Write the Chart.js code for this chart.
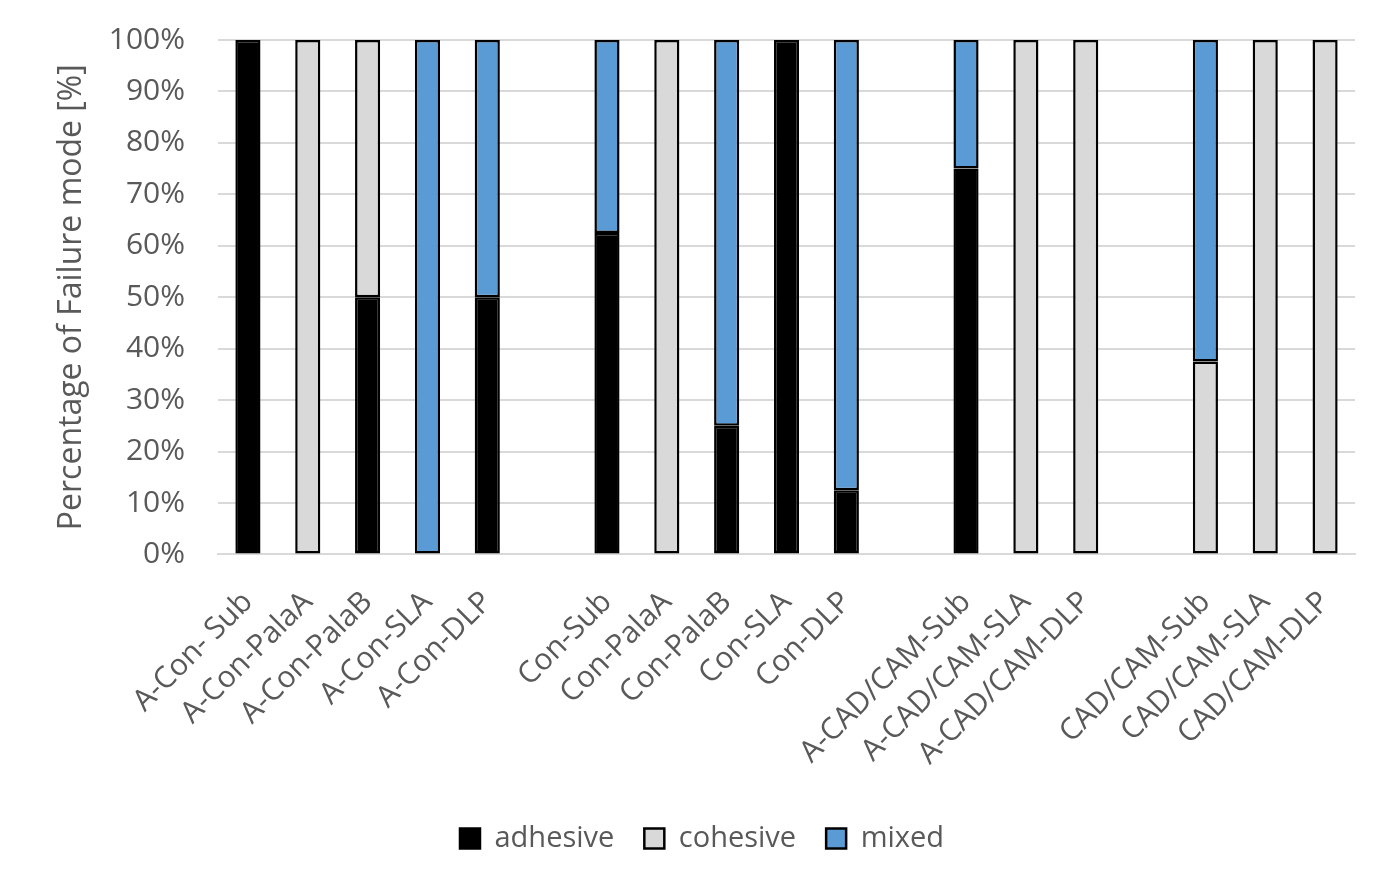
<!DOCTYPE html>
<html>
<head>
<meta charset="utf-8">
<script src="https://cdn.jsdelivr.net/npm/chart.js@4.4.0/dist/chart.umd.min.js"></script>
<style>
  html, body { margin: 0; padding: 0; background: #fff; }
  #wrap { width: 1399px; height: 889px; }
</style>
</head>
<body>
<div id="wrap"><canvas id="myChart" width="1399" height="889"></canvas></div>
<script>
// categories, '' = empty gap slot between groups
const categories = [
  'A-Con- Sub', 'A-Con-PalaA', 'A-Con-PalaB', 'A-Con-SLA', 'A-Con-DLP', '',
  'Con-Sub', 'Con-PalaA', 'Con-PalaB', 'Con-SLA', 'Con-DLP', '',
  'A-CAD/CAM-Sub', 'A-CAD/CAM-SLA', 'A-CAD/CAM-DLP', '',
  'CAD/CAM-Sub', 'CAD/CAM-SLA', 'CAD/CAM-DLP'
];

// percentages, null = no share
const adhesive = [100, null, 50, null, 50, null, 62.5, null, 25, 100, 12.5, null, 75, null, null, null, null, null, null];
const cohesive = [null, 100, 50, null, null, null, null, 100, null, null, null, null, null, 100, 100, null, 37.5, 100, 100];
const mixed    = [null, null, null, 100, 50, null, 37.5, null, 75, null, 87.5, null, 25, null, null, null, 62.5, null, null];

const yTicks = [0, 10, 20, 30, 40, 50, 60, 70, 80, 90, 100];

const textColor = '#595959';
const fontFamily = '"Open Sans", sans-serif';

const makeSet = (label, data, color) => ({
  label: label,
  data: data,
  backgroundColor: color,
  borderColor: '#000',
  borderWidth: 2.5,
  borderSkipped: false,
  barPercentage: 0.42,
  categoryPercentage: 1.0
});

new Chart(document.getElementById('myChart'), {
  type: 'bar',
  data: {
    labels: categories,
    datasets: [
      makeSet('adhesive', adhesive, '#000000'),
      makeSet('cohesive', cohesive, '#d9d9d9'),
      makeSet('mixed', mixed, '#5b9bd5')
    ]
  },
  options: {
    responsive: false,
    animation: false,
    layout: { padding: { left: 49, right: 44, top: 40, bottom: 26 } },
    scales: {
      x: {
        stacked: true,
        grid: { display: false },
        border: { color: '#d9d9d9', width: 2 },
        // let the rotated first label hang into the y axis area, as in the original
        afterFit: scale => { scale.paddingLeft = 0; scale.paddingRight = 0; },
        ticks: {
          color: textColor,
          font: { family: fontFamily, size: 30 },
          maxRotation: 45,
          minRotation: 45,
          autoSkip: false,
          padding: 22
        }
      },
      y: {
        stacked: true,
        min: 0,
        max: 100,
        afterBuildTicks: axis => { axis.ticks = yTicks.map(v => ({ value: v })); },
        afterFit: scale => {
          scale.width = 169;
          scale.paddingTop = 0;
          scale.paddingBottom = 0;
        },
        grid: { color: '#d9d9d9', lineWidth: 2, drawTicks: false },
        border: { display: false },
        ticks: {
          color: textColor,
          font: { family: fontFamily, size: 30 },
          padding: 33,
          callback: v => v + '%'
        },
        title: {
          display: true,
          text: 'Percentage of Failure mode [%]',
          color: textColor,
          font: { family: fontFamily, size: 32 },
          padding: { top: 4, bottom: 20 }
        }
      }
    },
    plugins: {
      legend: {
        position: 'bottom',
        labels: {
          color: textColor,
          font: { family: fontFamily, size: 29 },
          boxWidth: 20,
          boxHeight: 20,
          padding: 30
        }
      },
      tooltip: { enabled: false }
    }
  }
});
</script>
</body>
</html>
